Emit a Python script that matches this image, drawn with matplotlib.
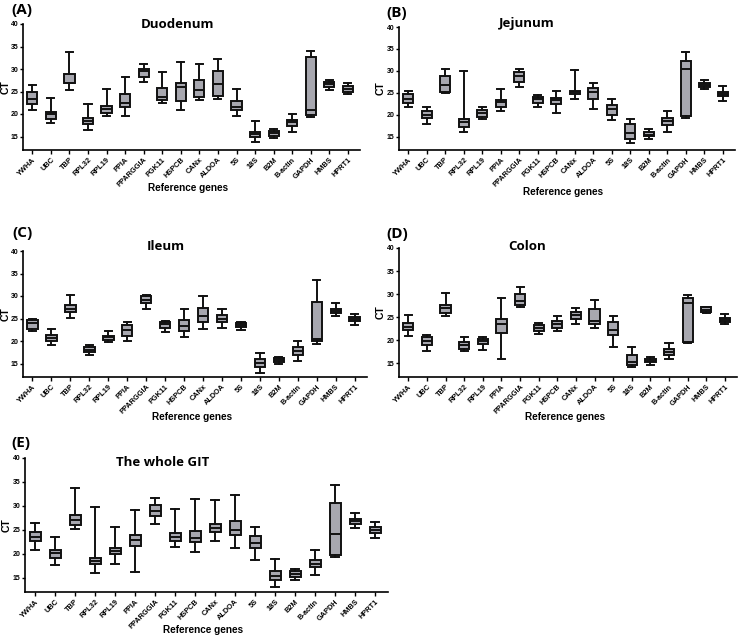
import matplotlib
matplotlib.use("Agg")
import matplotlib.pyplot as plt

genes = ["YWHA", "UBC", "TBP", "RPL32", "RPL19", "PPIA", "PPARGGIA", "PGK11", "HSPCB",
         "CANx", "ALDOA", "5S", "18S", "B2M", "B-actin", "GAPDH", "HMBS", "HPRT1"]

# Duodenum
duo_lo  = [21.0, 18.0, 25.3, 16.5, 19.5, 19.5, 27.1, 22.5, 20.9, 23.2, 23.3, 19.5, 13.7, 14.7, 16.1, 19.4, 25.3, 24.4]
duo_q1  = [22.2, 18.9, 26.8, 17.7, 20.2, 21.6, 28.2, 23.1, 23.0, 23.8, 24.1, 20.8, 15.0, 15.1, 17.4, 19.7, 26.1, 25.0]
duo_med = [23.4, 19.9, 27.0, 18.5, 21.2, 22.5, 29.5, 23.8, 26.1, 25.3, 26.6, 21.6, 15.6, 15.7, 18.2, 20.8, 26.6, 25.6]
duo_q3  = [24.8, 20.5, 28.9, 19.1, 21.7, 24.5, 30.0, 25.7, 26.8, 27.5, 29.6, 23.0, 16.1, 16.3, 18.6, 32.6, 27.1, 26.2]
duo_hi  = [26.5, 23.5, 33.7, 22.2, 25.5, 28.3, 31.2, 29.4, 31.5, 31.2, 32.3, 25.5, 18.5, 16.6, 20.1, 34.0, 27.5, 26.8]

# Jejunum
jej_lo  = [21.9, 18.0, 24.9, 16.0, 19.1, 20.9, 26.3, 21.9, 20.5, 23.7, 21.3, 18.8, 13.5, 14.4, 16.1, 19.3, 26.0, 23.1]
jej_q1  = [22.7, 19.2, 25.2, 17.3, 19.6, 21.9, 27.5, 22.8, 22.4, 24.7, 23.5, 20.0, 14.6, 15.2, 17.7, 19.7, 26.4, 24.2]
jej_med = [23.6, 20.0, 26.7, 18.3, 20.4, 23.0, 28.9, 23.7, 23.4, 25.3, 25.1, 21.3, 15.9, 15.5, 18.5, 30.4, 26.9, 24.7]
jej_q3  = [24.8, 20.8, 28.9, 19.1, 21.0, 23.3, 29.7, 24.1, 23.9, 25.5, 26.1, 22.3, 18.0, 16.1, 19.2, 32.2, 27.3, 25.3]
jej_hi  = [25.5, 21.8, 30.4, 29.9, 21.9, 25.8, 30.5, 24.6, 25.5, 30.3, 27.3, 23.7, 19.1, 16.7, 20.8, 34.4, 27.9, 26.5]

# Ileum
ile_lo  = [22.2, 19.1, 25.1, 16.8, 19.8, 19.9, 27.2, 21.9, 21.0, 22.7, 23.0, 22.4, 13.0, 14.8, 15.5, 19.3, 25.6, 23.6]
ile_q1  = [22.6, 20.1, 26.4, 17.6, 20.3, 21.1, 28.4, 22.9, 22.3, 24.3, 24.3, 23.1, 14.2, 15.3, 17.0, 20.1, 26.2, 24.4]
ile_med = [23.9, 20.7, 27.2, 18.1, 20.9, 22.4, 29.1, 23.8, 23.4, 25.6, 25.0, 23.5, 15.2, 15.8, 17.8, 20.5, 26.7, 24.9]
ile_q3  = [24.6, 21.3, 27.9, 18.6, 21.2, 23.5, 30.1, 24.3, 24.6, 27.3, 25.8, 23.9, 16.1, 16.3, 18.7, 28.6, 27.2, 25.3]
ile_hi  = [25.0, 22.6, 30.3, 19.2, 22.3, 24.3, 30.3, 24.5, 27.1, 30.1, 27.2, 24.3, 17.3, 16.4, 20.0, 33.6, 28.5, 26.1]

# Colon
col_lo  = [20.8, 17.7, 25.2, 17.6, 17.8, 16.0, 27.1, 21.4, 22.0, 23.4, 22.6, 18.5, 14.1, 14.5, 16.0, 19.3, 25.8, 23.6]
col_q1  = [22.3, 18.9, 26.0, 18.1, 19.2, 21.5, 27.6, 22.0, 22.6, 24.5, 23.5, 21.2, 14.5, 15.2, 16.7, 19.5, 26.1, 24.0]
col_med = [22.9, 19.8, 27.0, 18.9, 19.8, 23.5, 28.5, 22.6, 23.4, 25.5, 24.2, 22.2, 15.3, 15.5, 17.4, 28.0, 26.6, 24.4]
col_q3  = [23.8, 20.6, 27.7, 19.5, 20.3, 24.5, 30.0, 23.3, 24.1, 26.1, 26.8, 23.9, 16.7, 16.0, 18.1, 29.1, 27.1, 24.9]
col_hi  = [25.5, 21.2, 30.2, 20.7, 20.7, 29.2, 31.5, 23.7, 25.2, 27.0, 28.7, 25.2, 18.5, 16.4, 19.4, 29.9, 27.3, 25.6]

# The whole GIT
git_lo  = [20.8, 17.6, 25.1, 15.9, 17.8, 16.1, 26.3, 21.5, 20.4, 22.7, 21.2, 18.6, 13.0, 14.5, 15.5, 19.3, 25.3, 23.2]
git_q1  = [22.6, 19.2, 26.1, 17.8, 19.9, 21.6, 27.8, 22.6, 22.4, 24.5, 23.9, 21.1, 14.5, 15.1, 17.2, 19.7, 26.3, 24.4]
git_med = [23.4, 20.1, 27.1, 18.4, 20.6, 22.8, 28.9, 23.5, 23.3, 25.4, 25.0, 22.3, 15.4, 15.7, 17.9, 24.2, 26.8, 24.9]
git_q3  = [24.5, 20.8, 28.1, 19.1, 21.2, 23.9, 30.1, 24.3, 24.8, 26.3, 26.9, 23.6, 16.4, 16.3, 18.7, 30.6, 27.2, 25.5]
git_hi  = [26.5, 23.5, 33.7, 29.7, 25.6, 29.2, 31.6, 29.4, 31.5, 31.3, 32.3, 25.6, 19.0, 16.8, 20.7, 34.4, 28.5, 26.7]

yticks = [15, 20, 25, 30, 35, 40]

W, H = 740, 637
fig = plt.figure(figsize=(W / 100, H / 100), dpi=100)
fig.patch.set_facecolor("white")

TITLE_FONT = ["Open Sans", "DejaVu Sans"]
AX_FONT = ["Liberation Sans", "DejaVu Sans"]
BOX_COLOR = "#a7a7af"

panels = [
    # label, title, data, (left, right, top, bottom), label pos, title pos, xlabel pos, ylabel x
    ("(A)", "Duodenum", (duo_lo, duo_q1, duo_med, duo_q3, duo_hi), (23, 360, 24, 150), (11, 10), (177, 25), (188, 188), 1),
    ("(B)", "Jejunum", (jej_lo, jej_q1, jej_med, jej_q3, jej_hi), (399, 735, 27, 150), (386, 13), (527, 24), (563, 192), 376),
    ("(C)", "Ileum", (ile_lo, ile_q1, ile_med, ile_q3, ile_hi), (23, 367, 251, 377), (12, 233), (166, 246), (192, 417), 1),
    ("(D)", "Colon", (col_lo, col_q1, col_med, col_q3, col_hi), (399, 737, 248, 377), (386, 234), (527, 247), (565, 417), 376),
    ("(E)", "The whole GIT", (git_lo, git_q1, git_med, git_q3, git_hi), (25, 388, 458, 592), (11, 443), (163, 463), (203, 630), 2),
]

for lab, title, (lo, q1, med, q3, hi), (l, r, t, b), (lx, ly), (tx, ty), (xlx, xly), ylx in panels:
    ax = fig.add_axes([l / W, 1 - b / H, (r - l) / W, (b - t) / H])
    stats = []
    for i, g in enumerate(genes):
        stats.append(dict(label=g, whislo=lo[i], q1=q1[i], med=med[i], q3=q3[i], whishi=hi[i], fliers=[]))
    ax.bxp(stats, positions=range(len(genes)), widths=0.55, patch_artist=True,
           showfliers=False,
           boxprops=dict(facecolor=BOX_COLOR, edgecolor="#111111", linewidth=1.4),
           medianprops=dict(color="#111111", linewidth=1.4),
           whiskerprops=dict(color="#111111", linewidth=1.4),
           capprops=dict(color="#111111", linewidth=1.4),
           capwidths=0.38)
    ax.set_xlim(-0.5, len(genes) - 0.35)
    ax.set_ylim(12, 40)
    ax.set_yticks(yticks)
    ax.set_yticklabels([str(v) for v in yticks], fontsize=5, fontweight="bold", family=AX_FONT)
    ax.set_xticks(range(len(genes)))
    ax.set_xticklabels(genes, rotation=45, ha="right", rotation_mode="anchor",
                       fontsize=5.3, fontweight="bold", family=AX_FONT)
    for s in ("top", "right"):
        ax.spines[s].set_visible(False)
    for s in ("left", "bottom"):
        ax.spines[s].set_linewidth(1.2)
    ax.tick_params(axis="y", direction="out", length=2.5, width=1.0, pad=1)
    ax.tick_params(axis="x", direction="out", length=3, width=1.0, pad=1.5)
    fig.text(ylx / W, 1 - ((t + b) / 2) / H, "CT", rotation=90, ha="left", va="center",
             fontsize=7.5, fontweight="bold", family=AX_FONT)
    fig.text(xlx / W, 1 - xly / H, "Reference genes", ha="center", va="center",
             fontsize=7.2, fontweight="bold", family=AX_FONT)
    fig.text(tx / W, 1 - ty / H, title, ha="center", va="center", fontsize=9.5,
             fontweight="bold", family=TITLE_FONT)
    fig.text(lx / W, 1 - ly / H, lab, ha="left", va="center", fontsize=11,
             fontweight="bold", family=TITLE_FONT)

fig.savefig("out.png", dpi=100, facecolor="white")
